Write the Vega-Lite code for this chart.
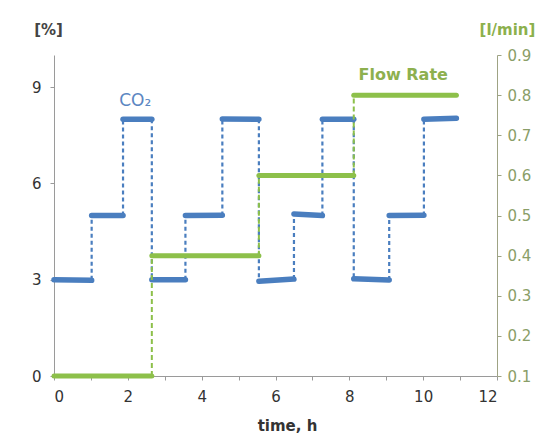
{
  "$schema": "https://vega.github.io/schema/vega-lite/v6.json",
  "width": 443,
  "height": 321,
  "autosize": {"type": "none"},
  "padding": {"left": 54, "top": 55, "right": 55, "bottom": 67},
  "background": "white",
  "config": {"view": {"stroke": null}, "font": "DejaVu Sans"},
  "encoding": {
    "x": {
      "field": "x", "type": "quantitative",
      "scale": {"domain": [0, 12], "nice": false, "zero": false},
      "axis": {
        "values": [0,1,2,3,4,5,6,7,8,9,10,11,12],
        "labelExpr": "datum.value % 2 == 0 ? datum.label : ''",
        "grid": false, "domainColor": "#9a9a9a", "tickColor": "#9a9a9a", "tickSize": 4,
        "labelColor": "#333333", "labelFontSize": 15, "labelPadding": 9, "labelFont": "DejaVu Sans",
        "title": "time, h", "titleFontSize": 15, "titleFontWeight": "bold", "titleColor": "#333333",
        "titlePadding": 14, "titleX": 233, "titleAlign": "center"
      }
    }
  },
  "layer": [
    {
      "encoding": {
        "y": {
          "field": "y", "type": "quantitative",
          "scale": {"domain": [0, 10], "nice": false},
          "axis": {
            "orient": "left", "values": [0, 3, 6, 9], "grid": false,
            "domainColor": "#9a9a9a", "tickColor": "#9a9a9a", "tickSize": 4,
            "labelColor": "#333333", "labelFontSize": 15, "labelPadding": 9,
            "title": "[%]", "titleAngle": 0, "titleX": -6, "titleY": -21,
            "titleAlign": "center", "titleBaseline": "alphabetic",
            "titleFontSize": 15, "titleFontWeight": "bold", "titleColor": "#444444"
          }
        }
      },
      "layer": [
        {
          "data": {"values": [
            {"x": 1.02, "y": 3.0, "y2": 5.0},
            {"x": 1.87, "y": 5.0, "y2": 8.0},
            {"x": 2.65, "y": 8.0, "y2": 3.0},
            {"x": 3.56, "y": 3.0, "y2": 5.0},
            {"x": 4.56, "y": 5.0, "y2": 8.0},
            {"x": 5.55, "y": 8.0, "y2": 2.95},
            {"x": 6.5, "y": 3.02, "y2": 5.05},
            {"x": 7.27, "y": 5.0, "y2": 8.0},
            {"x": 8.12, "y": 8.0, "y2": 3.03},
            {"x": 9.08, "y": 2.99, "y2": 5.0},
            {"x": 10.02, "y": 5.0, "y2": 8.0}
          ]},
          "mark": {"type": "rule", "color": "#4a7ebf", "strokeWidth": 2.2, "strokeDash": [4, 3]},
          "encoding": {"y2": {"field": "y2"}}
        },
        {
          "data": {"values": [
            {"x": 0, "x2": 1.02, "y": 3.0, "y2": 2.98},
            {"x": 1.02, "x2": 1.87, "y": 5.0, "y2": 5.0},
            {"x": 1.87, "x2": 2.65, "y": 8.0, "y2": 8.0},
            {"x": 2.65, "x2": 3.56, "y": 3.0, "y2": 3.0},
            {"x": 3.56, "x2": 4.56, "y": 5.0, "y2": 5.01},
            {"x": 4.56, "x2": 5.55, "y": 8.01, "y2": 8.0},
            {"x": 5.55, "x2": 6.5, "y": 2.95, "y2": 3.02},
            {"x": 6.5, "x2": 7.27, "y": 5.05, "y2": 5.0},
            {"x": 7.27, "x2": 8.12, "y": 8.0, "y2": 8.0},
            {"x": 8.12, "x2": 9.08, "y": 3.03, "y2": 2.99},
            {"x": 9.08, "x2": 10.02, "y": 5.0, "y2": 5.01},
            {"x": 10.02, "x2": 10.9, "y": 8.0, "y2": 8.03}
          ]},
          "mark": {"type": "rule", "color": "#4a7ebf", "strokeWidth": 5.5, "strokeCap": "round"},
          "encoding": {"x2": {"field": "x2"}, "y2": {"field": "y2"}}
        },
        {
          "data": {"values": [{"x": 2.2, "y": 8.57, "text": "CO₂"}]},
          "mark": {"type": "text", "color": "#5b86c2", "fontSize": 17, "baseline": "middle", "align": "center"},
          "encoding": {"text": {"field": "text"}}
        }
      ]
    },
    {
      "encoding": {
        "y": {
          "field": "y", "type": "quantitative",
          "scale": {"domain": [0.1, 0.9], "nice": false, "zero": false},
          "axis": {
            "orient": "right", "values": [0.1, 0.2, 0.3, 0.4, 0.5, 0.6, 0.7, 0.8, 0.9], "format": ".1f",
            "grid": false, "domainColor": "#9ea384", "tickColor": "#9ea384", "tickSize": 4,
            "labelColor": "#8a9e68", "labelFontSize": 15, "labelPadding": 6,
            "title": "[l/min]", "titleAngle": 0, "titleX": 10, "titleY": -21,
            "titleAlign": "center", "titleBaseline": "alphabetic",
            "titleFontSize": 15, "titleFontWeight": "bold", "titleColor": "#8cb04c"
          }
        }
      },
      "layer": [
        {
          "data": {"values": [
            {"x": 2.65, "y": 0.1, "y2": 0.4},
            {"x": 5.55, "y": 0.4, "y2": 0.6},
            {"x": 8.12, "y": 0.6, "y2": 0.8}
          ]},
          "mark": {"type": "rule", "color": "#8dc04a", "strokeWidth": 2, "strokeDash": [5, 3]},
          "encoding": {"y2": {"field": "y2"}}
        },
        {
          "data": {"values": [
            {"x": 0, "x2": 2.65, "y": 0.1},
            {"x": 2.65, "x2": 5.55, "y": 0.4},
            {"x": 5.55, "x2": 8.12, "y": 0.6},
            {"x": 8.12, "x2": 10.9, "y": 0.8}
          ]},
          "mark": {"type": "rule", "color": "#8dc04a", "strokeWidth": 5, "strokeCap": "round"},
          "encoding": {"x2": {"field": "x2"}}
        },
        {
          "data": {"values": [{"x": 9.46, "y": 0.85, "text": "Flow Rate"}]},
          "mark": {"type": "text", "color": "#8db04e", "fontSize": 16, "fontWeight": "bold", "baseline": "middle", "align": "center"},
          "encoding": {"text": {"field": "text"}}
        }
      ]
    }
  ],
  "resolve": {"scale": {"y": "independent"}}
}
